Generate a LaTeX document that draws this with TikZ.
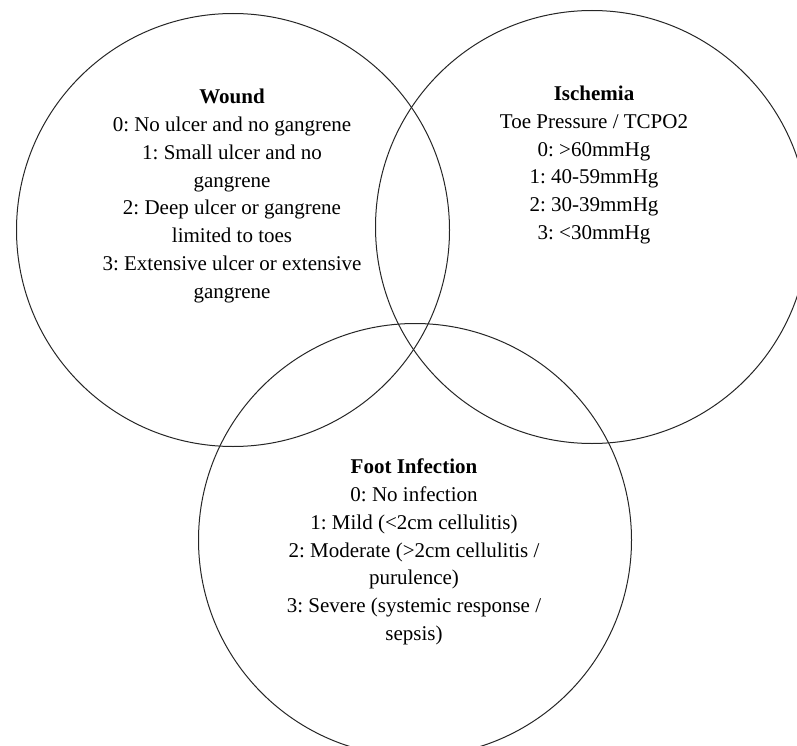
\documentclass[tikz,border=0pt]{standalone}
\usepackage{fontspec}
\setmainfont{Liberation Serif}
\usepackage{tikz}
\usetikzlibrary{positioning}
\frenchspacing
\tikzset{
  setcirc/.style ={draw=black!85, line width=1pt, circle, inner sep=0pt,
                   minimum size=433pt},
  settext/.style ={align=center, inner sep=0pt,
                   font=\fontsize{21}{27.8}\selectfont},
}

\begin{document}
\begin{tikzpicture}[x=1pt,y=-1pt]
  \useasboundingbox (0,0) rectangle (797,746);
  % the three sets
  \node[setcirc] (wound) at (233,230) {};
  \node[setcirc] (isch)  at (592,227) {};
  \node[setcirc] (foot)  at (415,540) {};
  % labels
  \node[settext] (woundtxt) at (232,196) {\textbf{Wound}\\
    0: No ulcer and no gangrene\\
    1: Small ulcer and no\\ gangrene\\
    2: Deep ulcer or gangrene\\ limited to toes\\
    3: Extensive ulcer or extensive\\ gangrene};
  \node[settext] (ischtxt) at (594,165) {\textbf{Ischemia}\\
    Toe Pressure / TCPO2\\
    0: >60mmHg\\
    1: 40-59mmHg\\
    2: 30-39mmHg\\
    3: <30mmHg};
  \node[settext] (foottxt) at (414,552) {\textbf{Foot Infection}\\
    0: No infection\\
    1: Mild (<2cm cellulitis)\\
    2: Moderate (>2cm cellulitis /\\ purulence)\\
    3: Severe (systemic response /\\ sepsis)};
\end{tikzpicture}
\end{document}
